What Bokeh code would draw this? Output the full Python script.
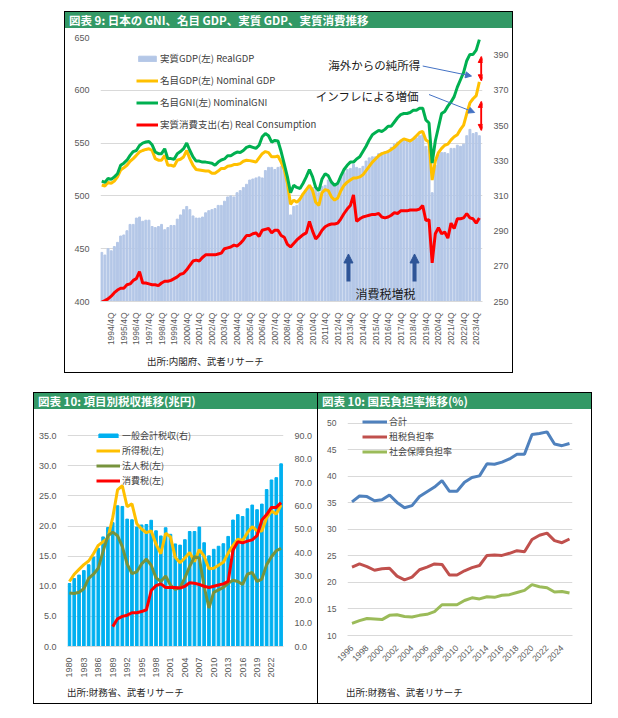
import math
from bokeh.plotting import figure
from bokeh.models import (Range1d, LinearAxis, FixedTicker, Div, Spacer, Label,
                          Arrow, NormalHead, NumeralTickFormatter)
from bokeh.layouts import column, row
from bokeh.embed import file_html
from bokeh.resources import INLINE

JP = "Noto Sans CJK JP"
NUM = "Liberation Sans"
GRAY = "#595959"
GRID = "#d9d9d9"

# ---------------- chart 1 data (quarterly, 1994Q1 - 2024Q1) ----------------
q_start_year = 1994
real_gdp = [
    446.5, 444.0, 450.0, 448.0,  452.0, 456.0, 462.0, 463.0,
    467.0, 473.0, 473.0, 479.0,  480.0, 476.0, 477.0, 477.0,
    471.0, 470.0, 471.0, 473.0,  468.0, 470.0, 472.0, 472.0,
    478.0, 482.0, 487.0, 490.0,  487.0, 481.0, 479.0, 479.0,
    480.0, 484.0, 486.0, 487.0,  488.0, 491.0, 491.0, 495.0,
    499.0, 500.0, 499.0, 503.0,  505.0, 508.0, 511.0, 515.0,
    516.0, 517.0, 518.0, 517.0,  524.0, 527.0, 527.0, 525.0,
    527.0, 528.0, 524.0, 510.0,  482.0, 490.0, 491.0, 498.0,
    502.0, 506.0, 510.0, 508.0,  506.0, 503.0, 509.0, 510.0,
    515.0, 514.0, 511.0, 511.0,  518.0, 522.0, 525.0, 526.0,
    530.0, 527.0, 526.0, 528.0,  533.0, 536.0, 537.0, 537.0,
    540.0, 541.0, 542.0, 543.0,  546.0, 549.0, 551.0, 552.0,
    553.0, 553.0, 551.0, 554.0,  555.0, 557.0, 558.0, 547.0,
    544.0, 503.0, 529.0, 539.0,  541.0, 541.0, 540.0, 545.0,
    545.0, 548.0, 547.0, 549.0,  557.0, 563.0, 559.0, 560.0,
    557.0,
]
nominal_gdp = [
    510.3, 509.4, 512.8, 511.9,  514.0, 518.0, 524.4, 526.6,
    529.0, 532.8, 535.3, 538.4,  541.6, 543.0, 544.0, 544.7,
    543.0, 535.3, 533.8, 533.8,  538.4, 529.0, 529.0, 528.0,
    533.8, 534.7, 536.9, 543.0,  535.0, 529.0, 525.0, 524.5,
    524.0, 523.5, 523.5, 521.5,  521.5, 523.5, 526.0, 526.0,
    528.0, 528.5, 529.7, 529.7,  530.6, 532.8, 533.8, 533.4,
    532.8, 532.0, 536.0, 540.0,  542.0, 541.0, 537.0, 537.0,
    537.8, 532.0, 525.0, 512.0,  492.0, 496.0, 494.0, 497.0,
    502.0, 506.0, 510.0, 505.0,  494.0, 491.0, 503.0, 506.0,
    505.0, 499.0, 496.0, 498.0,  505.0, 510.0, 513.0, 515.0,
    517.0, 517.0, 518.0, 520.0,  524.0, 528.0, 532.0, 535.0,
    538.0, 540.0, 541.0, 542.0,  544.0, 546.0, 549.0, 552.0,
    554.0, 553.0, 552.0, 554.0,  557.0, 560.0, 561.0, 553.0,
    551.0, 515.0, 533.0, 541.0,  545.0, 548.0, 549.0, 553.0,
    556.0, 558.0, 563.0, 567.0,  578.0, 588.0, 592.0, 595.0,
    608.0,
]
nominal_gni = [
    514.0, 512.8, 516.6, 515.6,  518.0, 521.0, 529.0, 531.0,
    533.8, 538.4, 542.0, 543.0,  547.8, 550.0, 551.0, 551.6,
    548.4, 541.6, 540.0, 540.0,  544.7, 535.3, 535.3, 534.7,
    540.0, 542.0, 544.7, 550.0,  543.0, 537.0, 533.0, 533.0,
    532.0, 532.0, 531.5, 531.0,  529.0, 532.0, 534.0, 535.0,
    538.0, 538.0, 540.0, 541.5,  541.0, 543.0, 546.0, 547.0,
    546.0, 545.0, 548.0, 556.0,  559.0, 557.0, 551.0, 552.5,
    552.0, 542.0, 530.0, 518.0,  503.0, 510.0, 508.0, 507.0,
    512.0, 518.0, 525.0, 518.0,  508.0, 505.0, 516.0, 521.0,
    519.0, 513.0, 510.0, 512.0,  519.0, 525.0, 529.0, 532.0,
    532.0, 535.0, 537.0, 542.0,  547.0, 553.0, 558.0, 560.0,
    562.0, 561.0, 563.0, 566.0,  566.0, 570.0, 574.0, 577.0,
    578.0, 578.0, 579.0, 581.0,  581.0, 583.0, 583.0, 572.0,
    569.0, 531.0, 552.0, 565.0,  578.0, 580.0, 585.0, 589.0,
    594.0, 603.0, 610.0, 617.0,  628.0, 634.0, 634.0, 638.0,
    648.0,
]
real_cons = [
    249.6, 250.5, 251.5, 253.0,  255.0, 256.5, 257.5, 257.5,
    259.5, 260.0, 262.0, 263.0,  267.0, 260.5, 260.5, 260.0,
    259.5, 259.5, 259.0, 260.5,  261.5, 261.5, 262.0, 263.0,
    264.0, 265.5, 266.0, 268.0,  270.5, 273.0, 273.5, 273.0,
    275.0, 276.5, 276.5, 276.5,  276.5, 277.0, 277.5, 280.0,
    280.5, 281.0, 282.0, 281.5,  283.0, 285.0, 287.5, 287.5,
    288.5, 289.0, 287.0, 290.5,  291.0, 291.5, 289.0, 290.5,
    290.5, 287.5, 286.5, 282.5,  281.0, 283.0, 285.0, 286.5,
    288.0, 289.0, 295.5, 290.0,  285.5, 287.5, 290.5, 292.5,
    293.5, 294.0, 294.0, 294.5,  297.0, 300.0, 302.5, 304.5,
    310.5, 295.5, 297.0, 298.0,  298.5, 299.0, 299.5, 299.5,
    300.0, 298.0, 297.5, 298.0,  299.0, 300.5, 300.0, 301.5,
    301.5, 301.5, 302.0, 302.0,  302.0, 302.5, 304.5, 296.0,
    296.5, 272.0, 288.5, 292.0,  288.5, 289.5, 286.0, 294.5,
    291.5, 297.0, 297.0, 297.5,  300.0, 297.5, 297.0, 294.5,
    297.5,
]
q_idx = list(range(len(real_gdp)))
q_labels = [f"{q_start_year + i // 4}/{i % 4 + 1}Q" for i in q_idx]
q_ticks = [i for i in q_idx if i % 4 == 3]
left_ticks_1 = [400, 450, 500, 550, 600, 650]
right_ticks_1 = [250, 270, 290, 310, 330, 350, 370, 390]
legend_1 = ["実質GDP(左) RealGDP", "名目GDP(左) Nominal GDP",
            "名目GNI(左) NominalGNI", "実質消費支出(右) Real Consumption"]

# annotations of chart 1 (data units)
note_texts = ["海外からの純所得", "インフレによる増価", "消費税増税"]
note_x = [72.0, 68.0, 80.6]
note_y = [624.0, 595.0, 407.5]
note_size = ["11.5px", "11.5px", "12px"]
tax_arrow_x = [78.4, 99.4]
tax_arrow_y = (419.0, 445.0)
pointer_lines = [(102.0, 623.0, 117.5, 613.5), (104.0, 596.0, 118.5, 579.0)]
gap_arrows = [(120.6, 632.0, 609.0), (120.6, 589.5, 562.0)]

# ---------------- chart 2 data (fiscal year, 1980 - 2024) ----------------
tax_years = list(range(1980, 2025))
general_tax = [26.9, 29.0, 30.5, 32.4, 34.9, 38.2, 41.9, 46.8, 50.8, 52.9,
               60.1, 59.8, 54.4, 54.1, 51.0, 51.9, 52.1, 53.9, 49.4, 47.2,
               50.7, 47.9, 43.8, 43.3, 45.6, 49.1, 49.1, 51.0, 44.3, 38.7,
               41.5, 42.8, 43.9, 47.0, 54.0, 56.3, 55.5, 58.8, 60.4, 58.4,
               60.8, 67.0, 71.1, 72.1, 78.0]
income_tax = [10.8, 12.0, 12.8, 13.6, 14.2, 15.4, 16.8, 17.4, 18.0, 21.4,
              26.0, 26.7, 23.2, 23.7, 20.4, 19.5, 18.9, 19.2, 17.0, 15.4,
              18.8, 18.2, 14.8, 13.9, 14.7, 15.6, 14.1, 16.1, 15.0, 12.9,
              13.0, 13.5, 14.0, 15.5, 16.8, 17.8, 17.6, 18.9, 19.9, 19.2,
              19.2, 21.4, 22.5, 22.0, 23.5]
corp_tax = [8.9, 8.8, 9.0, 9.6, 11.3, 12.0, 13.0, 15.8, 18.4, 19.0,
            18.4, 16.6, 13.7, 12.1, 12.4, 13.7, 14.5, 13.5, 11.4, 10.8,
            11.7, 10.2, 9.5, 9.8, 11.4, 13.3, 14.9, 14.7, 10.0, 6.4,
            9.0, 9.4, 9.8, 10.5, 11.0, 10.8, 10.3, 12.0, 12.3, 10.8,
            11.2, 13.6, 14.9, 15.9, 16.3]
cons_years = list(range(1989, 2025))
cons_tax = [3.3, 4.6, 5.0, 5.2, 5.6, 5.6, 5.8, 6.1, 9.3, 10.1,
            10.4, 9.8, 9.8, 9.8, 9.7, 10.0, 10.6, 10.5, 10.3, 10.0,
            9.8, 10.0, 10.2, 10.4, 10.8, 16.0, 17.4, 17.2, 17.5, 17.7,
            18.4, 21.0, 21.9, 23.1, 23.1, 23.9]
tax_ticks = tax_years[::3]
left_ticks_2 = [0, 5, 10, 15, 20, 25, 30, 35]
right_ticks_2 = [0, 10, 20, 30, 40, 50, 60, 70, 80, 90]
legend_2 = ["一般会計税収(右)", "所得税(左)", "法人税(左)", "消費税(左)"]

# ---------------- chart 3 data (1996 - 2025) ----------------
burden_years = list(range(1996, 2026))
total_burden = [35.2, 36.3, 36.2, 35.4, 35.6, 36.5, 35.1, 34.1, 34.5, 36.2,
                37.1, 38.0, 39.2, 37.2, 37.2, 38.9, 39.8, 40.1, 42.4, 42.3,
                42.7, 43.3, 44.2, 44.2, 47.9, 48.1, 48.4, 46.1, 45.8, 46.2]
tax_burden = [22.9, 23.5, 23.0, 22.3, 22.6, 22.7, 21.2, 20.5, 21.0, 22.4,
              22.9, 23.5, 23.4, 21.4, 21.4, 22.2, 22.8, 23.2, 25.1, 25.2,
              25.1, 25.5, 26.0, 25.8, 28.1, 28.9, 29.3, 27.9, 27.5, 28.2]
social_burden = [12.3, 12.8, 13.2, 13.1, 13.0, 13.8, 13.9, 13.6, 13.5, 13.8,
                 14.0, 14.5, 15.8, 15.8, 15.8, 16.6, 17.1, 16.9, 17.3, 17.2,
                 17.6, 17.7, 18.1, 18.5, 19.6, 19.2, 19.0, 18.2, 18.3, 18.0]
burden_ticks = burden_years[0:29:2]
y_ticks_3 = [10, 15, 20, 25, 30, 35, 40, 45, 50]
legend_3 = ["合計", "租税負担率", "社会保障負担率"]

titles = ["図表 9: 日本の GNI、名目 GDP、実質 GDP、実質消費推移",
          "図表 10: 項目別税収推移(兆円)",
          "図表 10: 国民負担率推移(%)"]
sources = ["出所:内閣府、武者リサーチ", "出所:財務省、武者リサーチ", "出所:財務省、武者リサーチ"]


def style_axis(ax, size):
    ax.major_label_text_font = NUM
    ax.major_label_text_font_size = size
    ax.major_label_text_color = GRAY
    ax.major_tick_line_color = None
    ax.minor_tick_line_color = None
    ax.axis_line_color = None


def style_legend(lg, size, gw, gh, lh, sp):
    lg.label_text_font = JP
    lg.label_text_font_size = size
    lg.label_text_color = "#404040"
    lg.glyph_width = gw
    lg.glyph_height = gh
    lg.label_height = lh
    lg.spacing = sp
    lg.padding = 0
    lg.margin = 0
    lg.label_standoff = 2
    lg.border_line_color = None
    lg.background_fill_alpha = 0


def header(text, w):
    return Div(text=text, width=w, height=16, margin=0, styles={
        "background-color": "#339966", "color": "white", "font-family": JP,
        "font-weight": "bold", "font-size": "11.5px", "line-height": "16px",
        "padding-left": "4px", "box-sizing": "border-box", "overflow": "hidden",
        "white-space": "nowrap"})


def source(text, w, h, pad):
    return Div(text=text, width=w, height=h, margin=0, styles={
        "color": "#262626", "font-family": JP, "font-size": "9.5px",
        "line-height": f"{h}px", "padding-left": f"{pad}px",
        "box-sizing": "border-box", "white-space": "nowrap",
        "background-color": "white"})


# ---------------- figure 1 ----------------
p1 = figure(width=447, height=323, x_range=Range1d(-0.4, 121.0),
            y_range=Range1d(400, 650), output_backend="svg",
            toolbar_location=None, min_border_left=35, min_border_right=30,
            min_border_top=9, min_border_bottom=50)
p1.extra_y_ranges = {"right": Range1d(250, 400)}
p1.outline_line_color = None
p1.xgrid.visible = False
p1.ygrid.grid_line_color = GRID
p1.yaxis.ticker = FixedTicker(ticks=left_ticks_1)
p1.xaxis.ticker = FixedTicker(ticks=q_ticks)
p1.xaxis.major_label_overrides = {i: q_labels[i] for i in q_ticks}
p1.xaxis.major_label_orientation = math.pi / 2
ax_r1 = LinearAxis(y_range_name="right", ticker=FixedTicker(ticks=right_ticks_1))
p1.add_layout(ax_r1, "right")
for ax in [p1.yaxis[0], p1.xaxis[0], ax_r1]:
    style_axis(ax, "9px")
p1.xaxis.major_label_text_font_size = "8.5px"
p1.xaxis.axis_line_color = GRID

p1.vbar(x=q_idx, top=real_gdp, bottom=400, width=0.62, color="#b4c7e7",
        legend_label=legend_1[0])
p1.line(q_idx, nominal_gdp, line_width=3, color="#ffc000", legend_label=legend_1[1])
p1.line(q_idx, nominal_gni, line_width=3, color="#00b050", legend_label=legend_1[2])
p1.line(q_idx, real_cons, line_width=3, color="#ff0000", y_range_name="right",
        legend_label=legend_1[3])
style_legend(p1.legend[0], "9.5px", 22, 7, 18, 4)
p1.legend.location = (36, 168)

for t, x, y, s in zip(note_texts, note_x, note_y, note_size):
    p1.add_layout(Label(x=x, y=y, text=t, text_font=JP, text_font_size=s,
                        text_color="#1a1a1a", text_baseline="middle"))
for x in tax_arrow_x:
    p1.add_layout(Arrow(x_start=x, y_start=tax_arrow_y[0], x_end=x, y_end=tax_arrow_y[1],
                        line_color="#2f5597", line_width=4,
                        end=NormalHead(size=9, fill_color="#2f5597", line_color="#2f5597")))
for (x0, y0, x1, y1) in pointer_lines:
    p1.add_layout(Arrow(x_start=x0, y_start=y0, x_end=x1, y_end=y1,
                        line_color="#4472c4", line_width=1,
                        end=NormalHead(size=6, fill_color="#4472c4", line_color="#4472c4")))
for (x, y0, y1) in gap_arrows:
    p1.add_layout(Arrow(x_start=x, y_start=y0, x_end=x, y_end=y1,
                        line_color="#ff0000", line_width=2,
                        start=NormalHead(size=6, fill_color="#ff0000", line_color="#ff0000"),
                        end=NormalHead(size=6, fill_color="#ff0000", line_color="#ff0000")))

# ---------------- figure 2 ----------------
left_top_2 = 36.2
p2 = figure(width=283, height=272, x_range=Range1d(1979.6, 2024.5),
            y_range=Range1d(0, left_top_2), output_backend="svg", toolbar_location=None,
            min_border_left=33, min_border_right=34, min_border_top=19,
            min_border_bottom=35)
p2.extra_y_ranges = {"right": Range1d(0, left_top_2 * 90 / 35)}
p2.outline_line_color = None
p2.xgrid.visible = False
p2.ygrid.grid_line_color = GRID
p2.yaxis.ticker = FixedTicker(ticks=left_ticks_2)
p2.yaxis.formatter = NumeralTickFormatter(format="0.0")
p2.xaxis.ticker = FixedTicker(ticks=tax_ticks)
p2.xaxis.major_label_orientation = math.pi / 2
ax_r2 = LinearAxis(y_range_name="right", ticker=FixedTicker(ticks=right_ticks_2),
                   formatter=NumeralTickFormatter(format="0.0"))
p2.add_layout(ax_r2, "right")
for ax in [p2.yaxis[0], p2.xaxis[0], ax_r2]:
    style_axis(ax, "9px")
p2.xaxis.axis_line_color = GRID

p2.vbar(x=tax_years, top=general_tax, bottom=0, width=0.55, color="#00b0f0",
        y_range_name="right", legend_label=legend_2[0])
p2.line(tax_years, income_tax, line_width=3, color="#ffc000", legend_label=legend_2[1])
p2.line(tax_years, corp_tax, line_width=3, color="#77933c", legend_label=legend_2[2])
p2.line(cons_years, cons_tax, line_width=3, color="#ff0000", legend_label=legend_2[3])
style_legend(p2.legend[0], "9px", 24, 5, 13, 2)
p2.legend.location = (29, 159)

# ---------------- figure 3 ----------------
p3 = figure(width=273, height=272, x_range=Range1d(1995.4, 2025.4),
            y_range=Range1d(10, 51.3), output_backend="svg", toolbar_location=None,
            min_border_left=29, min_border_right=19, min_border_top=7,
            min_border_bottom=46)
p3.outline_line_color = None
p3.xgrid.visible = False
p3.ygrid.grid_line_color = GRID
p3.yaxis.ticker = FixedTicker(ticks=y_ticks_3)
p3.xaxis.ticker = FixedTicker(ticks=burden_ticks)
p3.xaxis.major_label_orientation = math.pi / 4
for ax in [p3.yaxis[0], p3.xaxis[0]]:
    style_axis(ax, "8.5px")
p3.xaxis.axis_line_color = GRID
p3.line(burden_years, total_burden, line_width=3, color="#4f81bd", legend_label=legend_3[0])
p3.line(burden_years, tax_burden, line_width=3, color="#c0504d", legend_label=legend_3[1])
p3.line(burden_years, social_burden, line_width=3, color="#9bbb59", legend_label=legend_3[2])
style_legend(p3.legend[0], "9px", 25, 5, 11, 2)
p3.legend.location = (15, 177)

# ---------------- layout ----------------
panel_top = column(header(titles[0], 447), p1, source(sources[0], 447, 21, 82),
                   styles={"border": "1px solid black"})
panel_left = column(header(titles[1], 283), p2, source(sources[1], 283, 22, 33),
                    styles={"border": "1px solid black"})
panel_right = column(header(titles[2], 273), p3, source(sources[2], 273, 22, 28),
                     styles={"border": "1px solid black", "border-left": "none"})

page = column(
    Spacer(height=11),
    row(Spacer(width=64), panel_top),
    Spacer(height=19),
    row(Spacer(width=33), panel_left, panel_right),
)

open("out.html", "w").write(file_html(page, INLINE))
